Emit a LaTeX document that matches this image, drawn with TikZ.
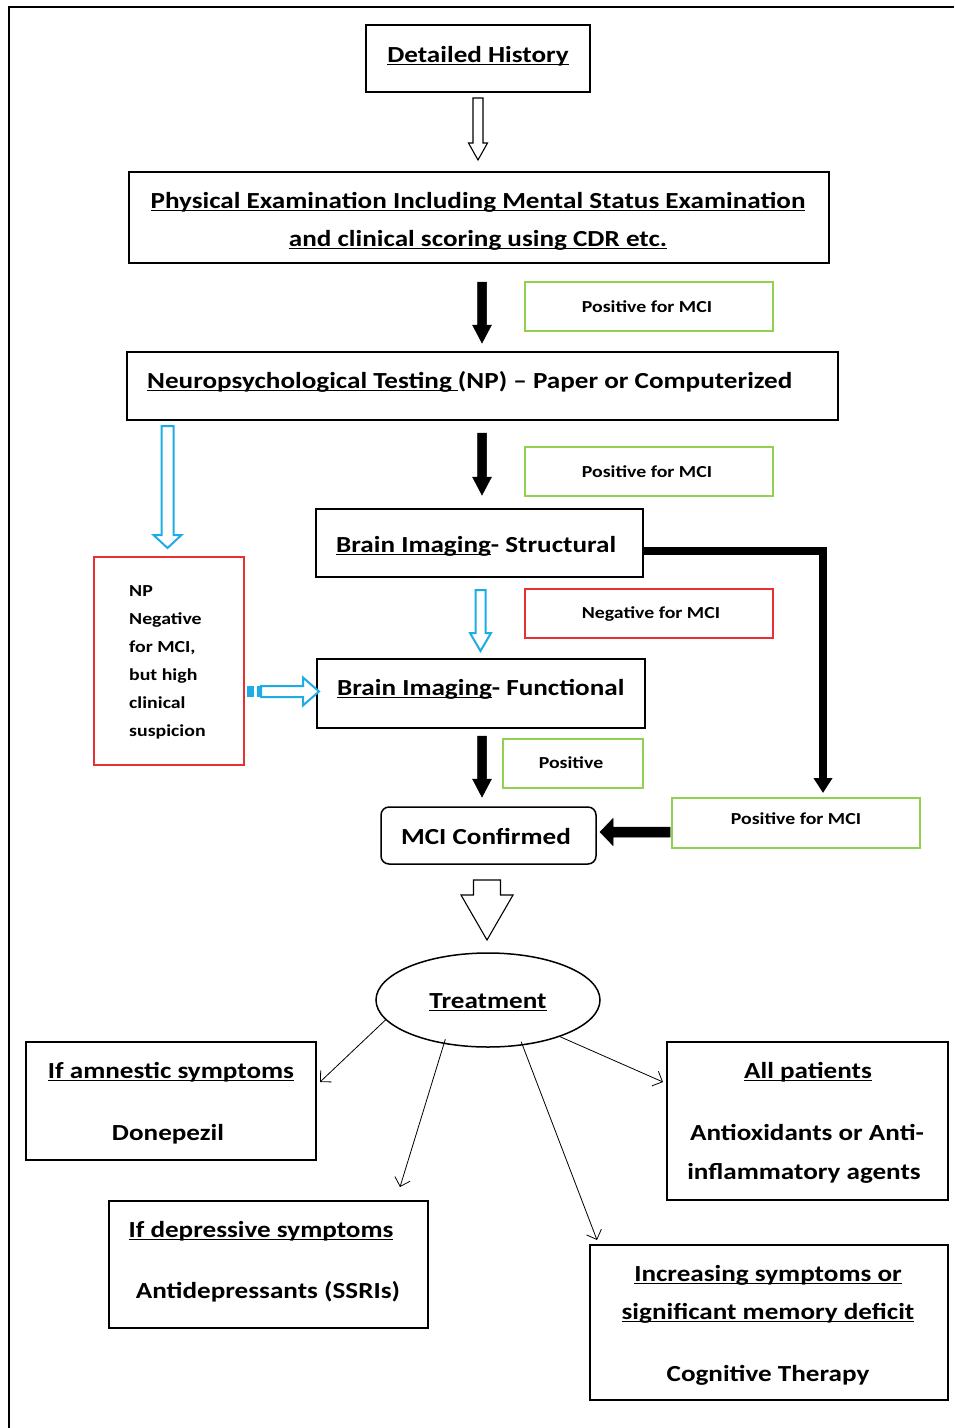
\documentclass[tikz,border=0pt]{standalone}
\usepackage{fontspec}
\setmainfont{Carlito}[FakeStretch=1.18]
\usetikzlibrary{arrows.meta,shapes.geometric}
\definecolor{okgreen}{RGB}{146,208,80}
\definecolor{nored}{RGB}{232,48,52}
\definecolor{npblue}{RGB}{30,172,230}
\newsavebox\myulbox
\newcommand\myul[1]{\sbox\myulbox{#1}\rlap{\rule[-3pt]{\wd\myulbox}{1.5pt}}\usebox\myulbox}
\newcommand\blkdown[7]{\draw[#1] ({#2-#6/2},#3) -- ({#2+#6/2},#3) -- ({#2+#6/2},#4) -- ({#2+#7/2},#4) -- (#2,#5) -- ({#2-#7/2},#4) -- ({#2-#6/2},#4) -- cycle;}
\newcommand\blkright[7]{\draw[#1] (#3,{#2-#6/2}) -- (#3,{#2+#6/2}) -- (#4,{#2+#6/2}) -- (#4,{#2+#7/2}) -- (#5,#2) -- (#4,{#2-#7/2}) -- (#4,{#2-#6/2}) -- cycle;}
\newcommand\bigtxt{\fontsize{23}{28}\selectfont\bfseries}
\newcommand\smalltxt{\fontsize{16.8}{20}\selectfont\bfseries}
\begin{document}
\begin{tikzpicture}[x=1pt,y=-1pt,
  box/.style={draw=black,line width=1.5pt,inner sep=0pt,outer sep=0pt},
  gbox/.style={draw=okgreen,line width=1.3pt,inner sep=0pt,outer sep=0pt,minimum width=248,minimum height=49},
  rbox/.style={draw=nored,line width=1.3pt,inner sep=0pt,outer sep=0pt},
  big/.style={inner sep=0pt,anchor=base,font=\bigtxt},
  bigw/.style={inner sep=0pt,anchor=base west,font=\bigtxt},
  small/.style={inner sep=0pt,anchor=base,font=\smalltxt},
  smallw/.style={inner sep=0pt,anchor=base west,font=\smalltxt},
  thin/.style={line width=0.8pt,-{Straight Barb[length=8pt,width=16pt]}},
  hollow/.style={draw=black,line width=1.1pt,fill=white},
  solid/.style={fill=black,draw=black,line width=0.5pt},
  bluearr/.style={draw=npblue,line width=2pt,fill=white}]
\useasboundingbox (0,0) rectangle (954,1428);
% frame
\draw[line width=2pt] (954,7) -- (9,7) -- (9,1428);
% boxes
\node[box,minimum width=224,minimum height=67] (hist) at (478,58.5) {};
\node[box,minimum width=700,minimum height=91] (phys) at (479,217.5) {};
\node[gbox] (pos1) at (649,306.5) {};
\node[box,minimum width=711,minimum height=68] (np) at (482.5,386) {};
\node[gbox] (pos2) at (649,471.5) {};
\node[box,minimum width=327,minimum height=68] (struct) at (479.5,543) {};
\node[rbox,minimum width=248,minimum height=49] (neg) at (649,613.5) {};
\node[rbox,minimum width=150,minimum height=208] (npneg) at (169,661) {};
\node[box,minimum width=328,minimum height=69] (func) at (481,693.5) {};
\node[gbox,minimum width=140] (pos3) at (573,763.5) {};
\node[box,rounded corners=8pt,minimum width=215,minimum height=57] (mci) at (488.5,835.5) {};
\node[gbox,minimum height=50] (pos4) at (796,823) {};
\node[draw,line width=1.5pt,ellipse,inner sep=0pt,minimum width=224,minimum height=94] (treat) at (488,1000) {};
\node[box,minimum width=290,minimum height=118] (amn) at (171,1101) {};
\node[box,minimum width=319,minimum height=127] (dep) at (268.5,1264.5) {};
\node[box,minimum width=281,minimum height=158] (allp) at (807.5,1121) {};
\node[box,minimum width=358,minimum height=155] (incr) at (769,1322.5) {};
% texts
\node[big] (thist) at (478,62) {\myul{Detailed History}};
\node[big] (tphys1) at (478,208) {\myul{Physical Examination Including Mental Status Examination}};
\node[big] (tphys2) at (478,246) {\myul{and clinical scoring using CDR etc.}};
\node[small] (tpos1) at (647,312.5) {Positive for MCI};
\node[bigw] (tnp) at (147,388) {\myul{Neuropsychological Testing\ }(NP) -- Paper or Computerized};
\node[small] (tpos2) at (647,477.5) {Positive for MCI};
\node[bigw] (tstruct) at (336,552) {\myul{Brain Imaging}- Structural};
\node[small] (tneg) at (651,618.5) {Negative for MCI};
\node[bigw] (tfunc) at (337,695) {\myul{Brain Imaging}- Functional};
\node[small] (tpos3) at (571,768.5) {Positive};
\node[big] (tmci) at (486,844) {MCI Confirmed};
\node[small] (tpos4) at (796,824.5) {Positive for MCI};
\node[big] (ttreat) at (488,1008) {\myul{Treatment}};
\node[big] (tamn1) at (171,1078) {\myul{If amnestic symptoms}};
\node[big] (tamn2) at (168,1140) {Donepezil};
\node[big] (tdep1) at (261,1237) {\myul{If depressive symptoms}};
\node[big] (tdep2) at (268,1298) {Antidepressants (SSRIs)};
\node[big] (tall1) at (808,1078) {\myul{All patients}};
\node[big] (tall2) at (807,1140) {Antioxidants or Anti-};
\node[big] (tall3) at (804,1179) {inflammatory agents};
\node[big] (tinc1) at (768,1281) {\myul{Increasing symptoms or}};
\node[big] (tinc2) at (768,1319) {\myul{significant memory deficit}};
\node[big] (tinc3) at (768,1381) {Cognitive Therapy};
\node[smallw] (tn1) at (129,596.5) {NP};
\node[smallw] (tn2) at (129,624.5) {Negative};
\node[smallw] (tn3) at (129,652.5) {for MCI,};
\node[smallw] (tn4) at (129,680.5) {but high};
\node[smallw] (tn5) at (129,708.5) {clinical};
\node[smallw] (tn6) at (129,736.5) {suspicion};
% block arrows
\blkdown{hollow}{478}{98}{143}{160}{10}{19}
\blkdown{solid}{482}{282}{325}{343}{9}{19}
\blkdown{solid}{482}{433}{477}{495}{9}{19}
\blkdown{solid}{482}{736}{779}{797}{9}{19}
\blkdown{bluearr}{167.5}{426}{535}{548}{12}{28}
\blkdown{bluearr}{480.5}{590}{633}{651}{10}{21}
\blkdown{hollow}{487}{880}{895}{940}{27}{52}
\blkright{bluearr}{691.5}{261}{303}{319}{11}{28}
\fill[npblue] (247,686) rectangle (254,697);
\fill[npblue] (257,686) rectangle (259.5,697);
\blkright{solid}{832}{670}{613}{600}{10}{27}
% elbow connector
\coordinate (e1) at (643,550.5);
\coordinate (e2) at (823,793);
\draw[line width=8pt,-{Triangle[length=15pt,width=18pt]}] (e1) -| (e2);
% treatment arrows
\coordinate (a1) at (320,1082);
\coordinate (a2) at (400,1187);
\coordinate (a3) at (597,1240);
\coordinate (a4) at (663,1082);
\draw[thin] (treat.191) -- (a1);
\draw[thin] ([yshift=5pt]treat.226) -- (a2);
\draw[thin] ([yshift=4pt]treat.306) -- (a3);
\draw[thin] (treat.333) -- (a4);
\end{tikzpicture}
\end{document}
